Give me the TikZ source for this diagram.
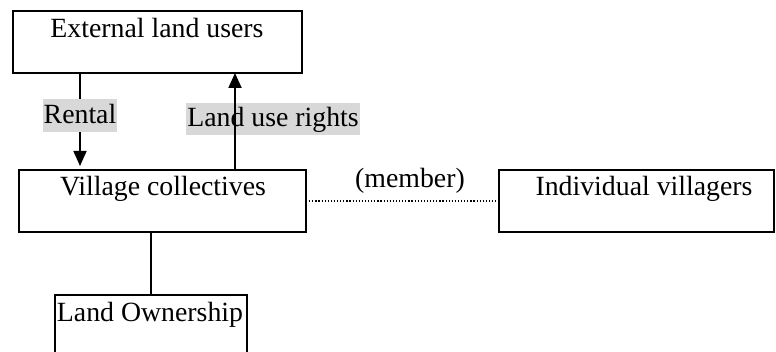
\documentclass[tikz,border=0pt]{standalone}
\usepackage{fontspec}
\setmainfont{Liberation Serif}
\usetikzlibrary{arrows.meta,calc}
\definecolor{labelgray}{RGB}{216,216,216}
\begin{document}
\begin{tikzpicture}[x=1pt,y=-1pt,
  box/.style={draw, line width=1.8pt, inner sep=0pt, outer sep=0pt, anchor=north west},
  txt/.style={anchor=base, inner sep=0pt, font=\fontsize{27.8}{33}\selectfont},
  tag/.style={fill=labelgray, anchor=base, inner xsep=1pt, inner ysep=0pt,
    text depth=8pt, font=\fontsize{27.8}{33}\selectfont},
  link/.style={line width=1.8pt},
  arr/.style={link, -{Triangle[length=15pt,width=13pt]}},
  dotline/.style={line width=1.1pt, dash pattern=on 1.2pt off 1.9pt},
]
\useasboundingbox (0,0) rectangle (776,352);

% boxes
\node[box, minimum width=289pt, minimum height=62pt] (ext) at (13,11) {};
\node[box, minimum width=287pt, minimum height=62pt] (vil) at (19,170) {};
\node[box, minimum width=275pt, minimum height=62pt] (ind) at (499,170) {};
\node[box, minimum width=192pt, minimum height=70pt] (own) at (55,295) {};

% box captions
\node[txt] (extT) at (157,38) {External land users};
\node[txt] (vilT) at (163,196) {Village collectives};
\node[txt] (indT) at (644,196) {Individual villagers};
\node[txt] (ownT) at (150,322) {Land Ownership};

% land use rights: label sits under its arrow
\node[tag, text height=24pt] (rights) at (273,127) {Land use rights};
\draw[arr] ($(vil.north west)+(216,0)$) -- ($(ext.south west)+(222,0)$);

% rental: label interrupts its arrow
\node[tag, text height=25pt] (rental) at (80,124) {Rental};
\draw[link] (ext.south -| rental.north) -- (rental.north);
\draw[arr] (rental.south) -- ($(rental.south |- vil.north)+(0,-4)$);

% ownership link
\draw[link] (vil.south -| own.north) -- (own.north);

% membership link
\draw[dotline] (vil.east) -- (ind.west);
\node[txt] (member) at (410,188) {(member)};
\end{tikzpicture}
\end{document}
